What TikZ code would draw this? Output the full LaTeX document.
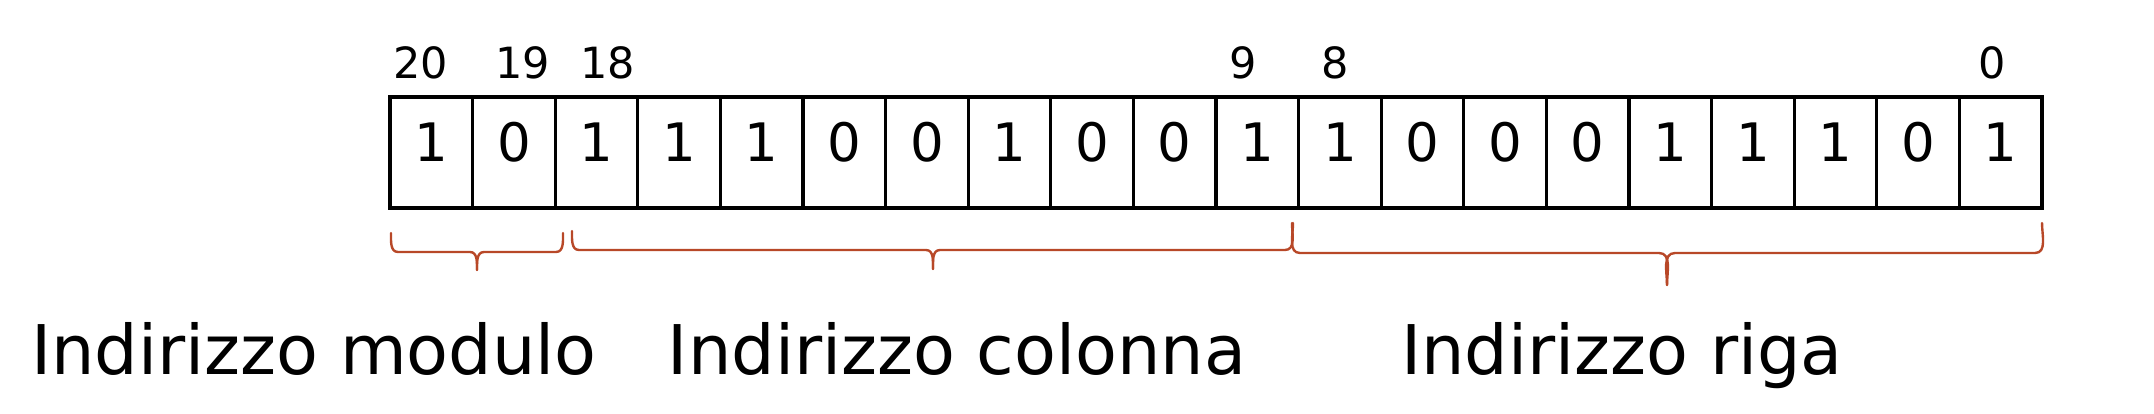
\documentclass[tikz,border=0pt]{standalone}
\usepackage{fontspec}
\setmainfont{DejaVu Sans}
\definecolor{bracecol}{RGB}{184,72,40}
\begin{document}
\begin{tikzpicture}[x=1pt,y=-1pt,
  cell/.style={draw=black,line width=3.1pt,minimum width=82.6pt,minimum height=111pt,inner sep=0pt,anchor=center},
  digit/.style={inner sep=0pt,font=\fontsize{53}{60}\selectfont},
  bitnum/.style={inner sep=0pt,font=\fontsize{43}{50}\selectfont},
  fieldlabel/.style={inner sep=0pt,anchor=base,font=\fontsize{68.5}{80}\selectfont},
  bracestyle/.style={draw=bracecol,line width=2.4pt,line cap=round,line join=round}]
\useasboundingbox (0,0) rectangle (2154,414);
% cells
\foreach \b [count=\i] in {1,0,1,1,1,0,0,1,0,0,1,1,0,0,0,1,1,1,0,1}{
  \node[cell] (c\i) at ({390+82.6*(\i-0.5)},152.5) {};
  \node[digit] (d\i) at ({390+82.6*(\i-0.5)},142) {\b};
}
% bit numbers
\node[bitnum] (n20) at (421,62.5) {20};
\node[bitnum] (n19) at (523,62.5) {19};
\node[bitnum] (n18) at (608,62.5) {18};
\node[bitnum] (n9) at (1243,62.5) {9};
\node[bitnum] (n8) at (1335,62.5) {8};
\node[bitnum] (n0) at (1992,62.5) {0};
% braces: module
\coordinate (m1) at (391,233);
\coordinate (m2) at (563,233);
\coordinate (mt) at (477,270);
\draw[bracestyle] (m1) to[out=-90,in=180] (398,252) -- (470,252) to[out=0,in=90] (mt);
\draw[bracestyle] (m2) to[out=-90,in=0] (556,252) -- (484,252) to[out=180,in=90] (mt);
% column
\coordinate (k1) at (572,231);
\coordinate (k2) at (1292,223);
\coordinate (kt) at (933,269);
\draw[bracestyle] (k1) to[out=-90,in=180] (579,250) -- (926,250) to[out=0,in=90] (kt);
\draw[bracestyle] (k2) to[out=-90,in=0] (1285,250) -- (940,250) to[out=180,in=90] (kt);
% row
\coordinate (r1) at (1293,223);
\coordinate (r2) at (2042,223);
\coordinate (rt) at (1667,285);
\draw[bracestyle] (r1) to[out=-90,in=180] (1300,253) -- (1659,253) to[out=0,in=90] (rt);
\draw[bracestyle] (r2) to[out=-90,in=0] (2035,253) -- (1675,253) to[out=180,in=90] (rt);
% labels
\node[fieldlabel] (lm) at (314,374) {Indirizzo modulo};
\node[fieldlabel] (lc) at (957,374) {Indirizzo colonna};
\node[fieldlabel] (lr) at (1622,374) {Indirizzo riga};
\end{tikzpicture}
\end{document}
